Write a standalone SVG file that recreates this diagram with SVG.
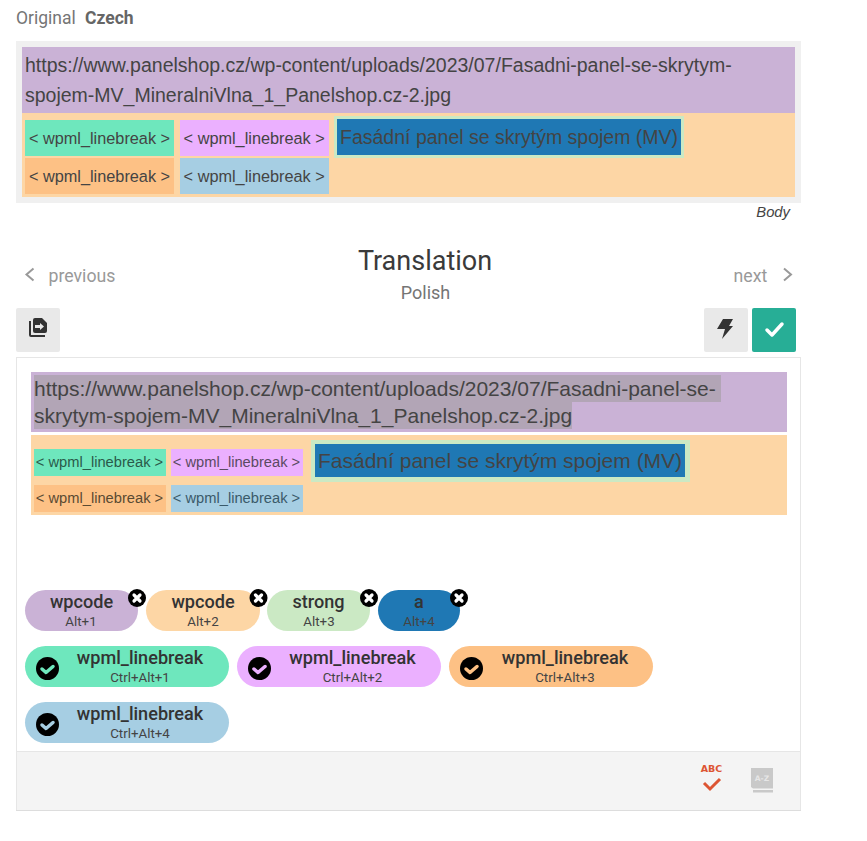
<svg xmlns="http://www.w3.org/2000/svg" width="867" height="841" viewBox="0 0 867 841">
<style>
text{font-family:"Liberation Sans",Arial,sans-serif;fill:#444}
.r{font-family:Roboto,"Liberation Sans",sans-serif}
.u{font-size:19.5px}
.v{font-size:21px}
.c{font-size:16.3px;text-anchor:middle}
.s{font-size:14.7px;text-anchor:middle}
.t{font-size:18.100px;font-weight:500;text-anchor:middle;fill:#333}
.k{font-size:13.300px;text-anchor:middle;fill:#444}
.n{font-size:17.700px;fill:#999}
.x{fill:none;stroke:#fff;stroke-width:3.200;stroke-linecap:round}
.ck{fill:none;stroke-width:3.500;stroke-linecap:round;stroke-linejoin:round}
</style>
<rect width="867" height="841" fill="#fff"/>
<g id="original-header">
<text class="r" x="16" y="24" font-size="17.500" style="fill:#757575">Original</text>
<text class="r" x="85" y="24" font-size="17.500" font-weight="700" style="fill:#666">Czech</text>
</g>
<g id="original-panel">
<rect x="16" y="41" width="785" height="162" fill="#f0f0f0"/>
<rect x="22" y="47" width="773" height="66" fill="#cab2d6"/>
<rect x="22" y="113" width="773" height="84" fill="#fdd6a5"/>
<text class="u" x="25" y="72">https://www.panelshop.cz/wp-content/uploads/2023/07/Fasadni-panel-se-skrytym-</text>
<text class="u" x="25" y="102">spojem-MV_MineralniVlna_1_Panelshop.cz-2.jpg</text>
<rect x="25" y="120" width="149" height="36" fill="#6ee7bd"/>
<text class="c" x="99.500" y="144">&lt; wpml_linebreak &gt;</text>
<rect x="180" y="120" width="149" height="36" fill="#ebb0ff"/>
<text class="c" x="254.200" y="144">&lt; wpml_linebreak &gt;</text>
<rect x="25" y="158" width="149" height="36" fill="#fdc185"/>
<text class="c" x="99.500" y="182">&lt; wpml_linebreak &gt;</text>
<rect x="180" y="158" width="149" height="36" fill="#a6cee3"/>
<text class="c" x="254.200" y="182">&lt; wpml_linebreak &gt;</text>
<rect x="334" y="116" width="350" height="42" fill="#cbe9c4"/>
<rect x="337" y="119" width="344" height="36" fill="#1f78b4"/>
<text class="u" x="340" y="144">Fasádní panel se skrytým spojem (MV)</text>
<text x="790" y="217" font-size="14.800" font-style="italic" text-anchor="end">Body</text>
</g>
<g id="translation-header">
<text class="r" x="425" y="270" font-size="27" text-anchor="middle" style="fill:#3a3a3a">Translation</text>
<text class="r" x="425.500" y="299" font-size="18" text-anchor="middle" style="fill:#757575">Polish</text>
<path d="M33.500 268.500L26.500 274.500L33.500 280.500" fill="none" stroke="#999" stroke-width="2"/>
<text class="r n" x="48.500" y="282">previous</text>
<text class="r n" x="733.500" y="282">next</text>
<path d="M784 268.500L791 274.500L784 280.500" fill="none" stroke="#999" stroke-width="2"/>
</g>
<g id="copy-button">
<rect x="16" y="308" width="44" height="44" rx="2" fill="#e9e9e9"/>
<path d="M29 321h2v14h14v2h-14a2 2 0 0 1-2-2z" fill="#333"/>
<path d="M33 320a2 2 0 0 1 2-2h7l5 5v8a2 2 0 0 1-2 2h-10a2 2 0 0 1-2-2z" fill="#333"/>
<path d="M35 325h5v-2l4 3.500l-4 3.500v-2h-5z" fill="#e9e9e9"/>
</g>
<g id="lightning-button">
<rect x="704" y="308" width="44" height="44" rx="2" fill="#e9e9e9"/>
<path d="M723 319h10l-4 7h4l-11 13l3-10h-8z" fill="#333"/>
</g>
<g id="confirm-button">
<rect x="752" y="308" width="44" height="44" rx="2" fill="#27ae96"/>
<path d="M767 330l5 5l10-11" fill="none" stroke="#fff" stroke-width="3.500" stroke-linecap="round" stroke-linejoin="round"/>
</g>
<g id="translation-panel">
<rect x="16.500" y="357.500" width="784" height="453" fill="#fff" stroke="#e6e6e6"/>
<rect x="31" y="372" width="756" height="60" fill="#cab2d6"/>
<rect x="34" y="375" width="687" height="27" fill="#b2a5b6"/>
<rect x="34" y="402" width="538" height="27" fill="#b2a5b6"/>
<text class="v" x="34" y="396">https://www.panelshop.cz/wp-content/uploads/2023/07/Fasadni-panel-se-</text>
<text class="v" x="34" y="423">skrytym-spojem-MV_MineralniVlna_1_Panelshop.cz-2.jpg</text>
<rect x="31" y="435" width="756" height="80" fill="#fdd6a5"/>
<rect x="34" y="449" width="132" height="27" fill="#6ee7bd"/>
<text class="s" x="99.500" y="467" style="fill:#2a5a4a">&lt; wpml_linebreak &gt;</text>
<rect x="171" y="449" width="132" height="27" fill="#ebb0ff"/>
<text class="s" x="236.500" y="467" style="fill:#5a4a62">&lt; wpml_linebreak &gt;</text>
<rect x="34" y="485" width="132" height="27" fill="#fdc185"/>
<text class="s" x="99.500" y="503" style="fill:#5a4a32">&lt; wpml_linebreak &gt;</text>
<rect x="171" y="485" width="132" height="27" fill="#a6cee3"/>
<text class="s" x="236.500" y="503" style="fill:#3a5a6a">&lt; wpml_linebreak &gt;</text>
<rect x="311" y="440" width="379" height="42" fill="#cbe9c4"/>
<rect x="315" y="444" width="370" height="33" fill="#1f78b4"/>
<text class="v" x="318" y="467.500">Fasádní panel se skrytým spojem (MV)</text>
</g>
<g id="tag-wpcode-1">
<rect x="25" y="590" width="113" height="41" rx="20.500" fill="#cab2d6"/>
<text class="r t" x="81.500" y="608">wpcode</text><text class="r k" x="81" y="626">Alt+1</text>
<circle cx="137" cy="598" r="9" fill="#000"/><path class="x" d="M134 595l6 6M140 595l-6 6"/>
</g>
<g id="tag-wpcode-2">
<rect x="146" y="590" width="114" height="41" rx="20.500" fill="#fdd6a5"/>
<text class="r t" x="203" y="608">wpcode</text><text class="r k" x="203" y="626">Alt+2</text>
<circle cx="258.500" cy="598" r="9" fill="#000"/><path class="x" d="M255.500 595l6 6M261.500 595l-6 6"/>
</g>
<g id="tag-strong">
<rect x="267" y="590" width="103" height="41" rx="20.500" fill="#cbe9c4"/>
<text class="r t" x="318.500" y="608">strong</text><text class="r k" x="319" y="626">Alt+3</text>
<circle cx="369" cy="598" r="9" fill="#000"/><path class="x" d="M366 595l6 6M372 595l-6 6"/>
</g>
<g id="tag-a">
<rect x="378" y="590" width="82" height="41" rx="20.500" fill="#1f78b4"/>
<text class="r t" x="419" y="608">a</text><text class="r k" x="419" y="626">Alt+4</text>
<circle cx="459" cy="598" r="9" fill="#000"/><path class="x" d="M456 595l6 6M462 595l-6 6"/>
</g>
<g id="tag-linebreak-1">
<rect x="25" y="646" width="204" height="41" rx="20.500" fill="#6ee7bd"/>
<text class="r t" x="140" y="664">wpml_linebreak</text><text class="r k" x="140" y="682">Ctrl+Alt+1</text>
<circle cx="47.500" cy="668.500" r="11.500" fill="#000"/><path class="ck" stroke="#6ee7bd" d="M42 669l4 3.500l7-6"/>
</g>
<g id="tag-linebreak-2">
<rect x="237" y="646" width="204" height="41" rx="20.500" fill="#ebb0ff"/>
<text class="r t" x="352.500" y="664">wpml_linebreak</text><text class="r k" x="352.500" y="682">Ctrl+Alt+2</text>
<circle cx="259.500" cy="668.500" r="11.500" fill="#000"/><path class="ck" stroke="#ebb0ff" d="M254 669l4 3.500l7-6"/>
</g>
<g id="tag-linebreak-3">
<rect x="449" y="646" width="204" height="41" rx="20.500" fill="#fdc185"/>
<text class="r t" x="565" y="664">wpml_linebreak</text><text class="r k" x="565" y="682">Ctrl+Alt+3</text>
<circle cx="471.500" cy="668.500" r="11.500" fill="#000"/><path class="ck" stroke="#fdc185" d="M466 669l4 3.500l7-6"/>
</g>
<g id="tag-linebreak-4">
<rect x="25" y="702" width="204" height="41" rx="20.500" fill="#a6cee3"/>
<text class="r t" x="140" y="720">wpml_linebreak</text><text class="r k" x="140" y="738">Ctrl+Alt+4</text>
<circle cx="47.500" cy="724.500" r="11.500" fill="#000"/><path class="ck" stroke="#a6cee3" d="M42 725l4 3.500l7-6"/>
</g>
<g id="footer">
<rect x="17" y="751" width="783" height="59" fill="#f4f4f4"/>
<path d="M17 751.500H800" stroke="#e6e6e6"/>
<path d="M16 810.500H801" stroke="#ddd"/>
<text x="711.500" y="772" font-size="9.500" font-weight="700" text-anchor="middle" style="font-family:'DejaVu Sans',sans-serif;fill:#dd5533">ABC</text>
<path d="M704 783l6 6l10-10" fill="none" stroke="#dd5533" stroke-width="3"/>
<path d="M751 768h22v20.500h-20l-2-1.500z" fill="#c9c9c9"/>
<path d="M753 790h20v2.500h-20z" fill="#c9c9c9"/>
<text x="762" y="781" font-size="7.500" font-weight="700" text-anchor="middle" style="font-family:'DejaVu Sans',sans-serif;fill:#e6e6e6">A-Z</text>
</g>
</svg>
